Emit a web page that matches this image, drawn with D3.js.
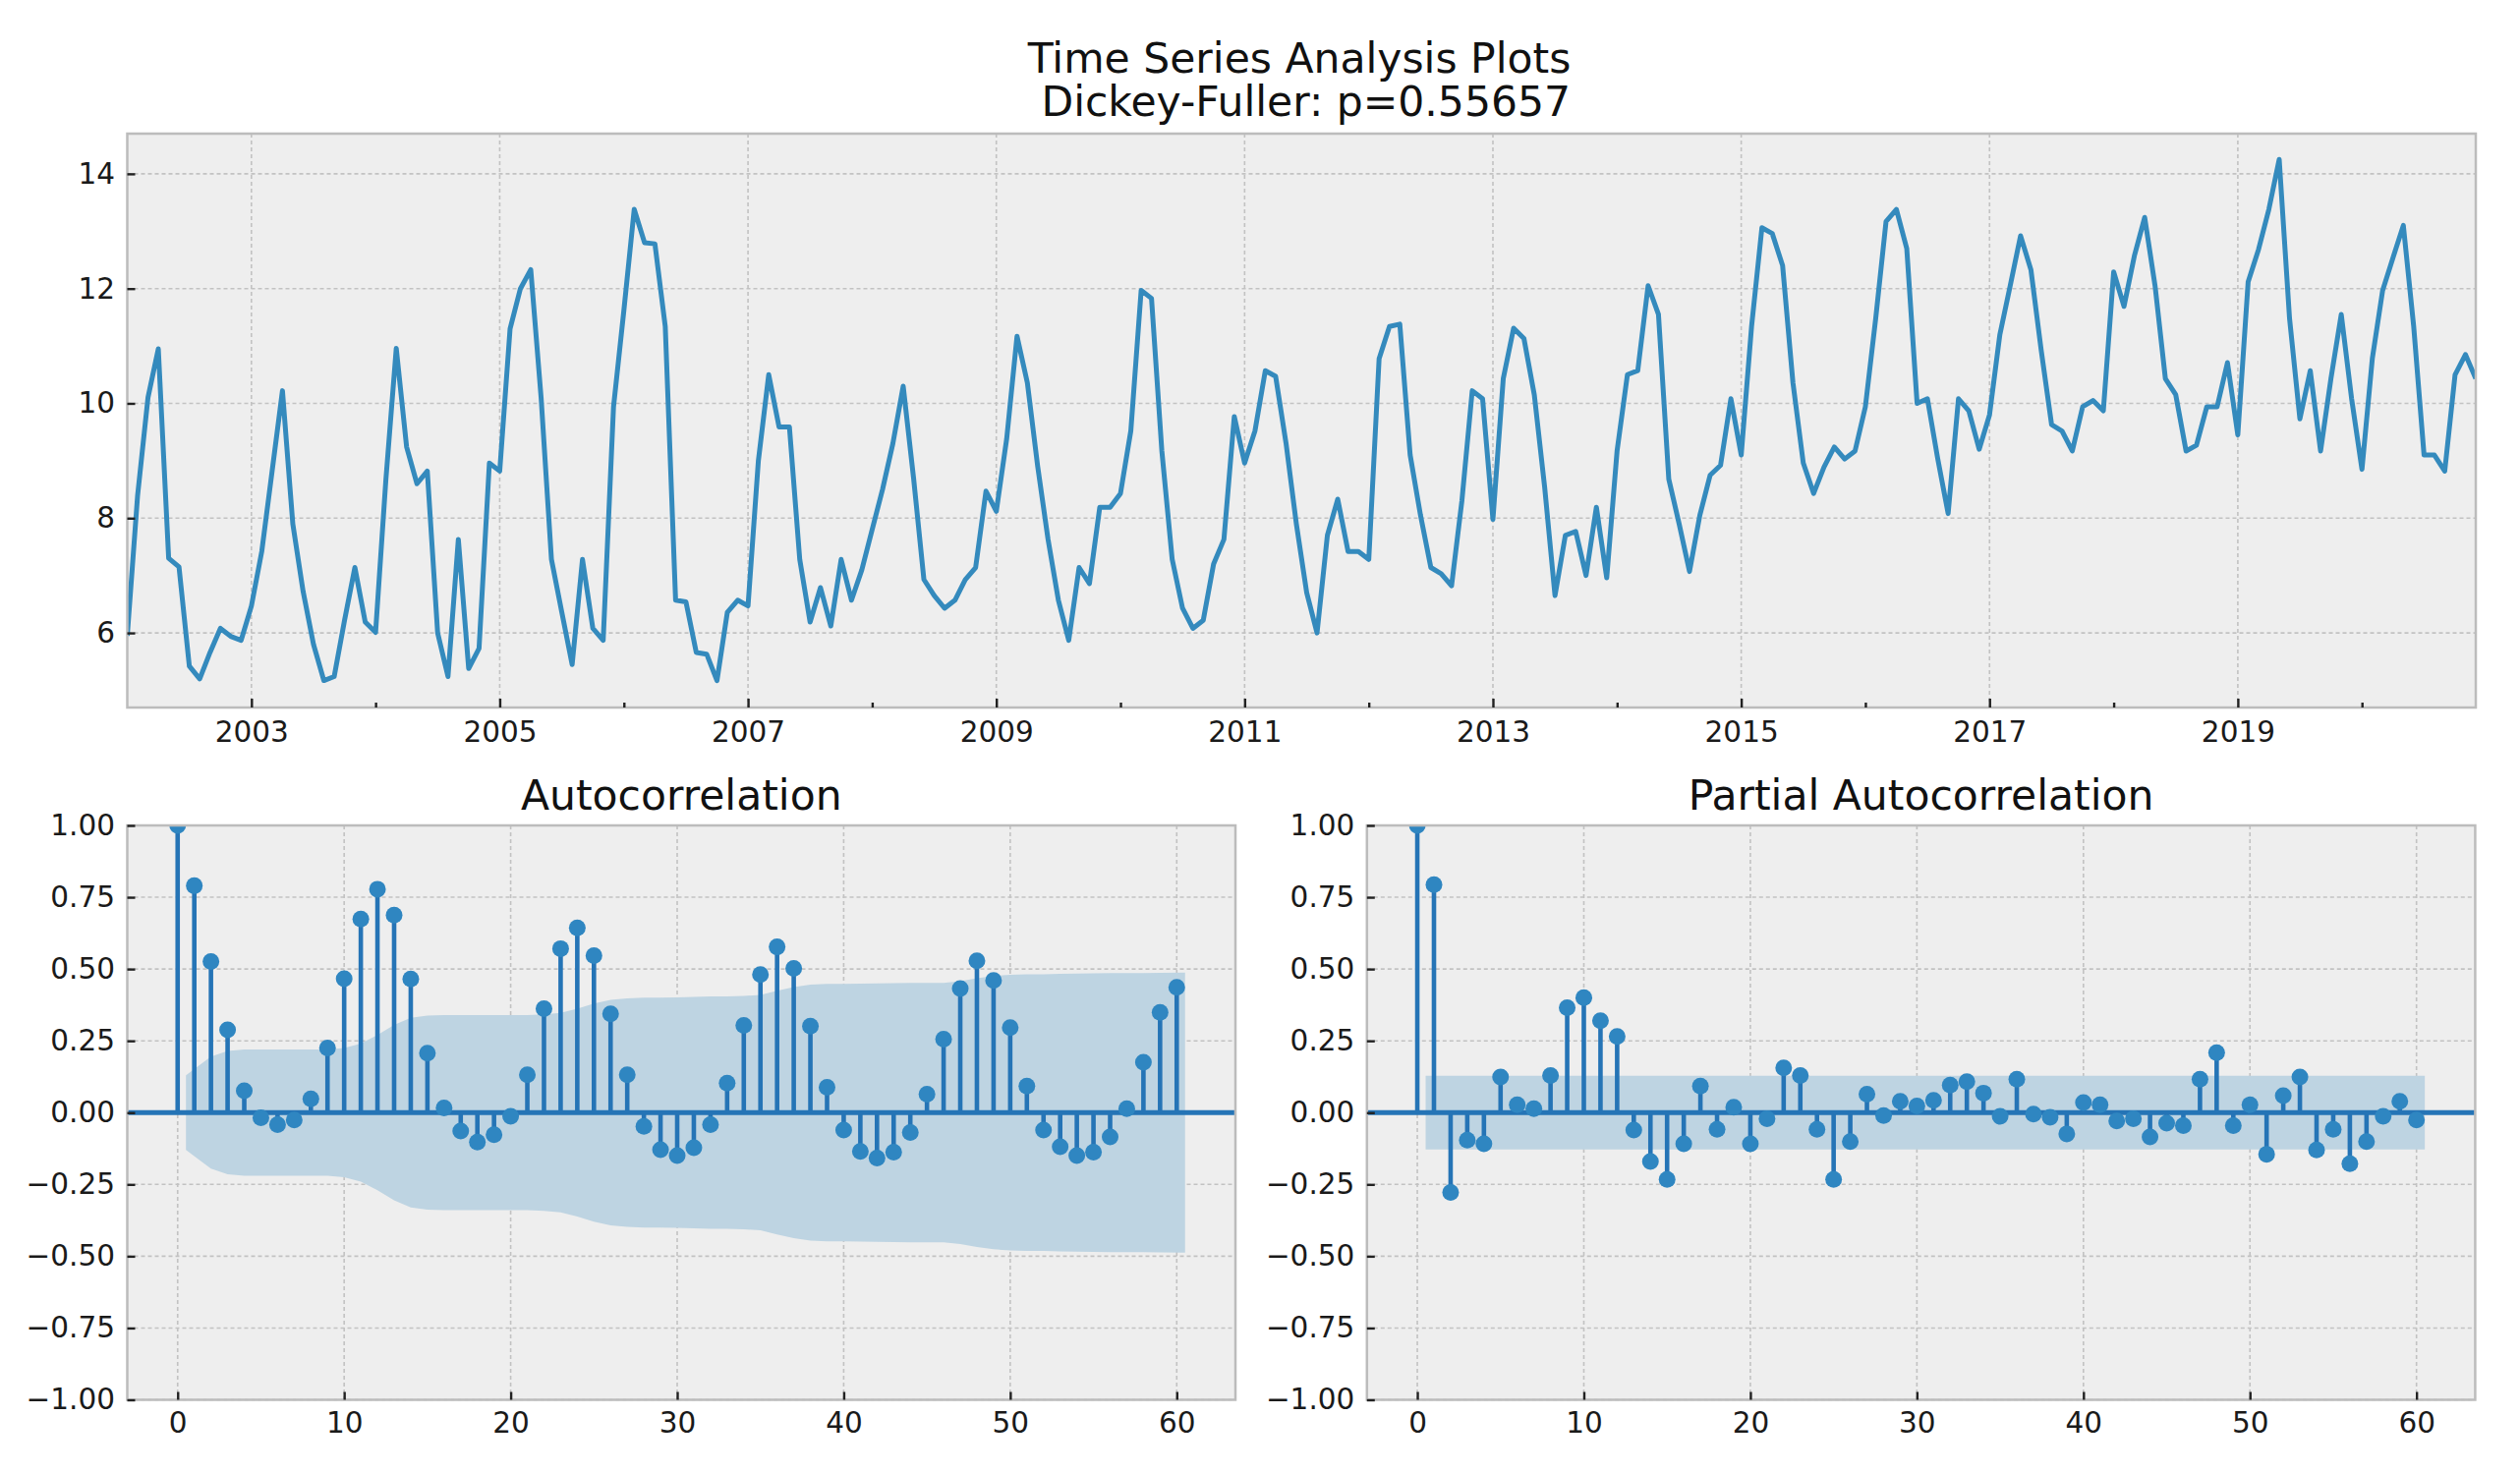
<!DOCTYPE html>
<html>
<head>
<meta charset="utf-8">
<script src="https://cdn.jsdelivr.net/npm/d3@7"></script>
<style>
  body { margin: 0; background: #ffffff; }
  svg { display: block; }
</style>
</head>
<body>
<svg id="chart" width="2564" height="1499"></svg>
<script>
// ---------------- DATA ----------------
const suptitleLines = ["Time Series Analysis Plots", " Dickey-Fuller: p=0.55657"];
const panelTitles = ["Autocorrelation", "Partial Autocorrelation"];
const seriesStart = { year: 2002, month: 1 };   // monthly series, 2002-01 .. 2020-12
const seriesValues = [
  5.95, 8.4, 10.1, 10.95, 7.3, 7.15, 5.42, 5.2, 5.66, 6.08, 5.94, 5.87,
  6.47, 7.42, 8.82, 10.22, 7.9, 6.72, 5.8, 5.17, 5.24, 6.22, 7.14, 6.19,
  6.01, 8.68, 10.96, 9.24, 8.6, 8.82, 6.0, 5.24, 7.63, 5.38, 5.73, 8.96,
  8.82, 11.3, 12.0, 12.33, 10.1, 7.28, 6.36, 5.45, 7.28, 6.08, 5.87, 9.94,
  11.62, 13.38, 12.8, 12.78, 11.34, 6.57, 6.54, 5.66, 5.63, 5.17, 6.36, 6.57,
  6.47, 9.0, 10.5, 9.59, 9.59, 7.28, 6.19, 6.79, 6.12, 7.28, 6.57, 7.1,
  7.8, 8.5, 9.3, 10.3, 8.7, 6.93, 6.65, 6.43, 6.57, 6.93, 7.14, 8.47,
  8.12, 9.38, 11.17, 10.36, 8.9, 7.63, 6.57, 5.87, 7.14, 6.86, 8.19, 8.19,
  8.43, 9.52, 11.97, 11.83, 9.17, 7.28, 6.43, 6.08, 6.22, 7.2, 7.63, 9.77,
  8.96, 9.52, 10.57, 10.47, 9.31, 7.9, 6.7, 6.0, 7.7, 8.33, 7.42, 7.42,
  7.28, 10.78, 11.34, 11.38, 9.1, 8.05, 7.14, 7.03, 6.82, 8.3, 10.22, 10.08,
  7.98, 10.43, 11.31, 11.13, 10.15, 8.54, 6.65, 7.7, 7.77, 7.0, 8.19, 6.96,
  9.17, 10.5, 10.57, 12.05, 11.55, 8.68, 7.9, 7.07, 8.05, 8.75, 8.92, 10.08,
  9.1, 11.34, 13.06, 12.96, 12.4, 10.36, 8.96, 8.43, 8.89, 9.24, 9.03, 9.17,
  9.94, 11.48, 13.17, 13.38, 12.7, 10.0, 10.08, 9.03, 8.08, 10.08, 9.87, 9.2,
  9.8, 11.2, 12.05, 12.92, 12.33, 10.92, 9.63, 9.52, 9.17, 9.94, 10.05, 9.87,
  12.29, 11.69, 12.57, 13.24, 12.05, 10.43, 10.15, 9.17, 9.27, 9.94, 9.94, 10.71,
  9.45, 12.12, 12.68, 13.38, 14.25, 11.48, 9.73, 10.57, 9.17, 10.43, 11.55, 10.08,
  8.85, 10.78, 11.97, 12.54, 13.1, 11.34, 9.1, 9.1, 8.82, 10.5, 10.85, 10.43
];
const majorYears = [2003, 2005, 2007, 2009, 2011, 2013, 2015, 2017, 2019];
const yearTickLabels = ["2003", "2005", "2007", "2009", "2011", "2013", "2015", "2017", "2019"];
const minorYears = [2004, 2006, 2008, 2010, 2012, 2014, 2016, 2018, 2020];
const seriesTicks = [6, 8, 10, 12, 14];

// autocorrelation, lags 0..60
const acfValues = [
  1.0, 0.79, 0.526, 0.288, 0.076, -0.018, -0.042, -0.026, 0.048, 0.225,
  0.466, 0.674, 0.778, 0.688, 0.465, 0.207, 0.016, -0.064, -0.103, -0.077,
  -0.013, 0.132, 0.362, 0.571, 0.643, 0.547, 0.344, 0.132, -0.048, -0.129,
  -0.15, -0.122, -0.042, 0.103, 0.304, 0.481, 0.577, 0.502, 0.301, 0.088,
  -0.061, -0.135, -0.158, -0.138, -0.069, 0.064, 0.256, 0.432, 0.529, 0.46,
  0.296, 0.092, -0.061, -0.119, -0.15, -0.138, -0.085, 0.014, 0.175, 0.349,
  0.436
];
// confidence band half-width, lags 1..60
const acfConfHalf = [
  0.13, 0.195, 0.215, 0.22, 0.22, 0.22, 0.22, 0.22, 0.22, 0.225,
  0.24, 0.27, 0.305, 0.33, 0.338, 0.34, 0.34, 0.34, 0.34, 0.34,
  0.34, 0.342, 0.347, 0.362, 0.38, 0.393, 0.398, 0.4, 0.4, 0.401,
  0.403, 0.405, 0.405, 0.406, 0.41, 0.424, 0.437, 0.446, 0.448, 0.448,
  0.449, 0.45, 0.451, 0.452, 0.452, 0.452, 0.458, 0.468, 0.476, 0.48,
  0.482, 0.482, 0.483, 0.484, 0.485, 0.486, 0.486, 0.486, 0.487, 0.488
];
// partial autocorrelation, lags 0..60
const pacfValues = [
  1.0, 0.794, -0.278, -0.096, -0.109, 0.124, 0.027, 0.014, 0.129, 0.365,
  0.40, 0.32, 0.265, -0.061, -0.17, -0.233, -0.109, 0.092, -0.058, 0.019,
  -0.109, -0.021, 0.156, 0.129, -0.058, -0.233, -0.101, 0.064, -0.01, 0.039,
  0.023, 0.043, 0.096, 0.108, 0.068, -0.013, 0.116, -0.005, -0.016, -0.074,
  0.035, 0.027, -0.029, -0.021, -0.085, -0.037, -0.045, 0.116, 0.209, -0.045,
  0.027, -0.145, 0.059, 0.124, -0.13, -0.058, -0.178, -0.101, -0.013, 0.039,
  -0.026
];
const pacfConfHalf = [
  0.128, 0.128, 0.128, 0.128, 0.128, 0.128, 0.128, 0.128, 0.128, 0.128,
  0.128, 0.128, 0.128, 0.128, 0.128, 0.128, 0.128, 0.128, 0.128, 0.128,
  0.128, 0.128, 0.128, 0.128, 0.128, 0.128, 0.128, 0.128, 0.128, 0.128,
  0.128, 0.128, 0.128, 0.128, 0.128, 0.128, 0.128, 0.128, 0.128, 0.128,
  0.128, 0.128, 0.128, 0.128, 0.128, 0.128, 0.128, 0.128, 0.128, 0.128,
  0.128, 0.128, 0.128, 0.128, 0.128, 0.128, 0.128, 0.128, 0.128, 0.128
];
const corrTicks = [1.0, 0.75, 0.5, 0.25, 0.0, -0.25, -0.5, -0.75, -1.0];
const lagTicks = [0, 10, 20, 30, 40, 50, 60];

// ---------------- STYLE ----------------
const FONT = '"DejaVu Sans", "Liberation Sans", sans-serif';
const BG = "#eeeeee", SPINE = "#bcbcbc", GRID = "#c2c2c2";
const LINE_C = "#348ABD", STEM_C = "#2574b6", MARK_C = "#2f86c1", BAND_C = "rgb(190,212,226)";
const TICK_FS = 29.5, TITLE_FS = 42.5;

const svg = d3.select("#chart");
svg.append("rect").attr("width", 2564).attr("height", 1499).attr("fill", "#ffffff");

// suptitle
svg.append("text").attr("x", 1322).attr("y", 73.6)
  .attr("text-anchor", "middle").attr("font-family", FONT).attr("font-size", TITLE_FS)
  .attr("fill", "#111").style("white-space", "pre").text(suptitleLines[0]);
svg.append("text").attr("x", 1322).attr("y", 117.6)
  .attr("text-anchor", "middle").attr("font-family", FONT).attr("font-size", TITLE_FS)
  .attr("fill", "#111").style("white-space", "pre").text(suptitleLines[1]);

function styleAxis(g) {
  g.attr("font-family", FONT).attr("font-size", TICK_FS);
  g.select(".domain").remove();
  g.selectAll(".tick line").attr("stroke", "#222").attr("stroke-width", 2.4);
  g.selectAll(".tick text").attr("fill", "#1a1a1a");
}

function gridDash(sel) {
  return sel.attr("stroke", GRID).attr("stroke-width", 1.6).attr("stroke-dasharray", "4,3");
}

let clipCount = 0;
function makeClip(box) {
  const id = "clip" + (clipCount++);
  svg.append("clipPath").attr("id", id).append("rect")
    .attr("x", box.x0).attr("y", box.y0).attr("width", box.x1 - box.x0).attr("height", box.y1 - box.y0);
  return "url(#" + id + ")";
}

// ---------------- TOP: time series ----------------
(function drawSeries() {
  const box = { x0: 129.5, x1: 2519, y0: 136, y1: 720 };
  const monthIndex = (year) => (year - seriesStart.year) * 12 + (1 - seriesStart.month);
  const x = d3.scaleLinear().domain([0, seriesValues.length - 1]).range([box.x0, box.x1]);
  const y = d3.scaleLinear().domain([4.70, 14.70]).range([box.y1, box.y0]);
  const g = svg.append("g");
  g.append("rect").attr("x", box.x0).attr("y", box.y0).attr("width", box.x1 - box.x0)
    .attr("height", box.y1 - box.y0).attr("fill", BG);

  gridDash(g.selectAll(".hg").data(seriesTicks).enter().append("line")
    .attr("x1", box.x0).attr("x2", box.x1).attr("y1", d => y(d)).attr("y2", d => y(d)));
  gridDash(g.selectAll(".vg").data(majorYears).enter().append("line")
    .attr("y1", box.y0).attr("y2", box.y1)
    .attr("x1", d => x(monthIndex(d))).attr("x2", d => x(monthIndex(d))));

  const line = d3.line().x((d, i) => x(i)).y(d => y(d));
  g.append("path").datum(seriesValues).attr("d", line)
    .attr("fill", "none").attr("stroke", LINE_C).attr("stroke-width", 5)
    .attr("stroke-linejoin", "round").attr("clip-path", makeClip(box));

  g.append("rect").attr("x", box.x0).attr("y", box.y0).attr("width", box.x1 - box.x0)
    .attr("height", box.y1 - box.y0).attr("fill", "none").attr("stroke", SPINE).attr("stroke-width", 2.5);

  const ya = g.append("g").attr("transform", `translate(${box.x0},0)`)
    .call(d3.axisLeft(y).tickValues(seriesTicks).tickFormat(d3.format("d")).tickSize(-8).tickPadding(12.5));
  styleAxis(ya);
  const xa = g.append("g").attr("transform", `translate(0,${box.y1})`)
    .call(d3.axisBottom(x).tickValues(majorYears.map(monthIndex))
      .tickFormat((d, i) => yearTickLabels[i]).tickSize(-9).tickPadding(14));
  styleAxis(xa);
  const xm = g.append("g").attr("transform", `translate(0,${box.y1})`)
    .call(d3.axisBottom(x).tickValues(minorYears.map(monthIndex)).tickFormat("").tickSize(-5));
  styleAxis(xm);
})();

// ---------------- CORRELATION PANELS ----------------
function corrPanel(box, values, confHalf, title) {
  const x = d3.scaleLinear().domain([-3.025, 63.525]).range([box.x0, box.x1]);
  const y = d3.scaleLinear().domain([-1, 1]).range([box.y1, box.y0]);
  const g = svg.append("g");
  const clip = makeClip(box);
  g.append("rect").attr("x", box.x0).attr("y", box.y0).attr("width", box.x1 - box.x0)
    .attr("height", box.y1 - box.y0).attr("fill", BG);

  gridDash(g.selectAll(".hg").data(corrTicks).enter().append("line")
    .attr("x1", box.x0).attr("x2", box.x1).attr("y1", d => y(d)).attr("y2", d => y(d)));
  gridDash(g.selectAll(".vg").data(lagTicks).enter().append("line")
    .attr("y1", box.y0).attr("y2", box.y1).attr("x1", d => x(d)).attr("x2", d => x(d)));

  // confidence band (lags 1..60, ends widened by half a lag)
  const band = confHalf.map((h, k) => ({ lag: k + 1, h: h }));
  band[0].lag -= 0.5;
  band[band.length - 1].lag += 0.5;
  g.append("path").datum(band)
    .attr("d", d3.area().x(d => x(d.lag)).y0(d => y(-d.h)).y1(d => y(d.h)))
    .attr("fill", BAND_C).attr("clip-path", clip);

  g.selectAll(".stem").data(values).enter().append("line")
    .attr("x1", (d, i) => x(i)).attr("x2", (d, i) => x(i))
    .attr("y1", y(0)).attr("y2", d => y(d))
    .attr("stroke", STEM_C).attr("stroke-width", 4.6).attr("clip-path", clip);

  g.append("line").attr("x1", box.x0).attr("x2", box.x1).attr("y1", y(0)).attr("y2", y(0))
    .attr("stroke", STEM_C).attr("stroke-width", 4.8);

  g.selectAll(".mk").data(values).enter().append("circle")
    .attr("cx", (d, i) => x(i)).attr("cy", d => y(d)).attr("r", 8.5)
    .attr("fill", MARK_C).attr("clip-path", clip);

  g.append("rect").attr("x", box.x0).attr("y", box.y0).attr("width", box.x1 - box.x0)
    .attr("height", box.y1 - box.y0).attr("fill", "none").attr("stroke", SPINE).attr("stroke-width", 2.5);

  const ya = g.append("g").attr("transform", `translate(${box.x0},0)`)
    .call(d3.axisLeft(y).tickValues(corrTicks).tickFormat(d3.format(".2f")).tickSize(-8).tickPadding(12.5));
  styleAxis(ya);
  const xa = g.append("g").attr("transform", `translate(0,${box.y1})`)
    .call(d3.axisBottom(x).tickValues(lagTicks).tickFormat(d3.format("d")).tickSize(-8).tickPadding(13));
  styleAxis(xa);

  g.append("text").attr("x", (box.x0 + box.x1) / 2).attr("y", box.y0 - 16.5)
    .attr("text-anchor", "middle").attr("font-family", FONT).attr("font-size", TITLE_FS)
    .attr("fill", "#111").text(title);
}

corrPanel({ x0: 129.5, x1: 1257, y0: 840, y1: 1424.5 }, acfValues, acfConfHalf, panelTitles[0]);
corrPanel({ x0: 1390.8, x1: 2518.4, y0: 840, y1: 1424.5 }, pacfValues, pacfConfHalf, panelTitles[1]);
</script>
</body>
</html>
